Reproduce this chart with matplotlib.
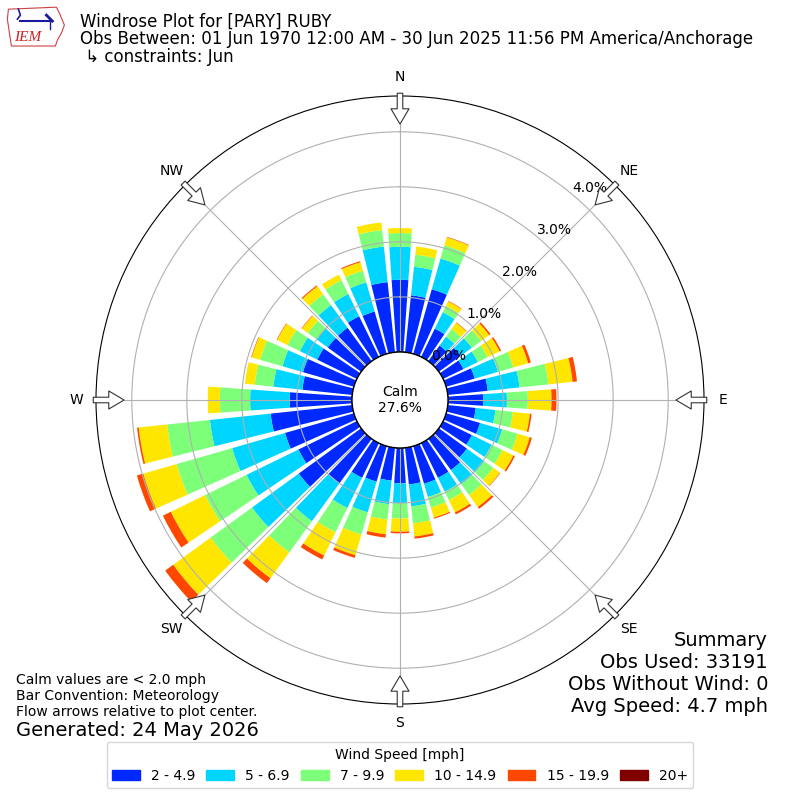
import numpy as np
import matplotlib.pyplot as plt
from matplotlib.patches import Patch, Circle, Polygon

# wind direction (deg, meteorological) and percent of obs per speed bin
directions = np.arange(0, 360, 10)
speed_labels = ["2 - 4.9", "5 - 6.9", "7 - 9.9", "10 - 14.9", "15 - 19.9", "20+"]

spd_2_5 = [1.31, 1.04, 1.22, 0.57, 0.35, 0.49, 0.41, 0.54, 0.73, 0.64, 0.51, 0.64,
           0.58, 0.63, 0.70, 0.70, 0.71, 0.67, 0.64, 0.60, 0.67, 0.70, 1.00, 1.40,
           1.18, 1.30, 1.49, 1.13, 0.91, 0.96, 0.80, 0.75, 0.75, 0.82, 0.80, 1.28]
spd_5_7 = [0.60, 0.52, 0.58, 0.33, 0.20, 0.25, 0.29, 0.44, 0.58, 0.43, 0.36, 0.42,
           0.40, 0.39, 0.32, 0.28, 0.25, 0.40, 0.36, 0.43, 0.58, 0.61, 0.85, 1.05,
           1.05, 1.00, 1.11, 0.72, 0.53, 0.39, 0.35, 0.25, 0.51, 0.45, 0.55, 0.65]
spd_7_10 = [0.25, 0.22, 0.25, 0.13, 0.17, 0.21, 0.20, 0.29, 0.53, 0.38, 0.32, 0.29,
            0.22, 0.20, 0.24, 0.17, 0.20, 0.31, 0.28, 0.28, 0.42, 0.49, 0.70, 0.93,
            0.84, 1.05, 0.78, 0.55, 0.34, 0.42, 0.25, 0.20, 0.24, 0.28, 0.22, 0.30]
spd_10_15 = [0.09, 0.15, 0.15, 0.09, 0.14, 0.18, 0.24, 0.28, 0.44, 0.43, 0.31, 0.23,
             0.22, 0.15, 0.27, 0.25, 0.19, 0.24, 0.24, 0.27, 0.39, 0.47, 0.58, 0.84,
             0.69, 0.63, 0.52, 0.22, 0.18, 0.16, 0.21, 0.13, 0.18, 0.11, 0.16, 0.14]
spd_15_20 = [0.00, 0.00, 0.01, 0.01, 0.01, 0.03, 0.03, 0.05, 0.08, 0.09, 0.03, 0.04,
             0.03, 0.01, 0.04, 0.04, 0.02, 0.04, 0.03, 0.06, 0.05, 0.08, 0.11, 0.18,
             0.16, 0.12, 0.03, 0.00, 0.00, 0.01, 0.01, 0.01, 0.02, 0.00, 0.02, 0.00]
spd_20 = [0.0] * 36

calm_pct = 27.6
ring_ticks = [0, 1, 2, 3, 4]
compass_labels = ["N", "NE", "E", "SE", "S", "SW", "W", "NW"]

fig = plt.figure(figsize=(8, 8), dpi=100)
ax = fig.add_axes([0.12, 0.12, 0.76, 0.76], projection="polar")
ax.set_theta_zero_location("N")
ax.set_theta_direction(-1)

colors = plt.cm.jet(np.linspace(0, 1, 7)[1:])
theta = np.deg2rad(directions)
bar_w = np.deg2rad(10) * 0.8
bottom = np.zeros(len(directions))
for vals, col in zip([spd_2_5, spd_5_7, spd_7_10, spd_10_15, spd_15_20, spd_20], colors):
    ax.bar(theta, vals, width=bar_w, bottom=bottom, color=col, linewidth=0, zorder=1)
    bottom = bottom + np.array(vals)

ax.set_ylim(0, 4.65)
ax.set_rorigin(-0.873)
ax.set_yticks(ring_ticks)
ax.set_yticklabels([])
for t in ring_ticks:
    ax.text(np.deg2rad(40), t, f"{t:.1f}%", ha="left", va="bottom", fontsize=10, zorder=7)
ax.set_thetagrids(np.arange(0, 360, 45), compass_labels, fontsize=10)
ax.tick_params(axis="x", pad=3.5)
ax.grid(True, color="#b0b0b0", lw=0.8)
ax.spines["polar"].set_color("black")

# calm circle
ax.add_patch(Circle((0.5, 0.5), 48 / 608, transform=ax.transAxes, fc="white",
                    ec="black", lw=1, zorder=5, clip_on=False))
ax.text(0.5, 0.5, f"Calm\n{calm_pct}%", transform=ax.transAxes, ha="center",
        va="center", fontsize=10, zorder=6)

# flow arrows
for ang in range(0, 360, 45):
    ax.annotate("", xy=(np.deg2rad(ang), 4.14), xytext=(np.deg2rad(ang), 4.7),
                arrowprops=dict(arrowstyle="simple,head_length=1.1,head_width=1.3,tail_width=0.4",
                                fc="white", ec="#333333", lw=0.8, shrinkA=0, shrinkB=0),
                annotation_clip=False, zorder=8)

# titles
fig.text(0.1, 1 - 27 / 800, "Windrose Plot for [PARY] RUBY", fontsize=12, va="baseline")
fig.text(0.1, 1 - 44.5 / 800,
         "Obs Between: 01 Jun 1970 12:00 AM - 30 Jun 2025 11:56 PM America/Anchorage",
         fontsize=12, va="baseline")
fig.text(0.1, 1 - 62 / 800, " \u21b3 constraints: Jun", fontsize=12, va="baseline")

# logo
lax = fig.add_axes([0.008, 0.94, 0.075, 0.056])
lax.set_xlim(0, 60)
lax.set_ylim(45, 0)
lax.axis("off")
lax.add_patch(Polygon([(2, 6), (50, 4), (53, 10), (58, 22), (55, 30), (51, 37), (49, 43),
                       (5, 43), (3, 30), (1, 16)], closed=True, fill=False,
                      ec="#d04040", lw=0.8))
lax.plot([14, 44], [18, 18], color="#1a1aa0", lw=1.5)
lax.plot([12, 14, 11], [6, 12, 16], color="#1a1aa0", lw=1.2)
lax.plot([40, 46], [12, 18], color="#1a1aa0", lw=2)
lax.plot([44, 44], [18, 26], color="#1a1aa0", lw=1)
lax.text(8, 38, "IEM", color="#cc2222", fontsize=11, family="Liberation Serif",
         style="italic", va="baseline")

# notes
fig.text(16 / 800, 1 - 680 / 800, "Calm values are < 2.0 mph", fontsize=10, va="center")
fig.text(16 / 800, 1 - 696 / 800, "Bar Convention: Meteorology", fontsize=10, va="center")
fig.text(16 / 800, 1 - 712 / 800, "Flow arrows relative to plot center.", fontsize=10, va="center")
fig.text(16 / 800, 1 - 730 / 800, "Generated: 24 May 2026", fontsize=14, va="center")

summary = ["Summary", "Obs Used: 33191", "Obs Without Wind: 0", "Avg Speed: 4.7 mph"]
for i, s in enumerate(summary):
    fig.text(768 / 800, 1 - (640 + 22 * i) / 800, s, fontsize=14, ha="right", va="center")

handles = [Patch(color=c, label=l) for c, l in zip(colors, speed_labels)]
fig.legend(handles=handles, loc="lower center", bbox_to_anchor=(0.5, 0.006), ncol=6,
           title="Wind Speed [mph]", fontsize=10, title_fontsize=10, columnspacing=0.8)

fig.savefig("out.png", dpi=100)
